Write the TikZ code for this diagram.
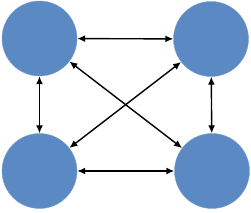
\documentclass[tikz,border=0pt]{standalone}
\usetikzlibrary{arrows.meta}
\definecolor{cblue}{RGB}{91,137,196}
\tikzset{
  blob/.style={circle, fill=cblue, draw=cblue!80!white, line width=0.4pt, inner sep=0pt, minimum size=75pt},
  link/.style={{Latex[length=8pt,width=7pt]}-{Latex[length=8pt,width=7pt]}, line width=1.4pt, black}
}
\begin{document}
\begin{tikzpicture}[x=1pt,y=-1pt]
\useasboundingbox (0,0) rectangle (251,213);
\node[blob] (a) at (39.5,38.5) {};
\node[blob] (b) at (211,39) {};
\node[blob] (c) at (39.5,171) {};
\node[blob] (d) at (212,171) {};
\draw[link] (a) -- (b);
\draw[link] (c) -- (d);
\draw[link] (a) -- (c);
\draw[link] (b) -- (d);
\draw[link] (a) -- (d);
\draw[link] (b) -- (c);
\end{tikzpicture}
\end{document}
